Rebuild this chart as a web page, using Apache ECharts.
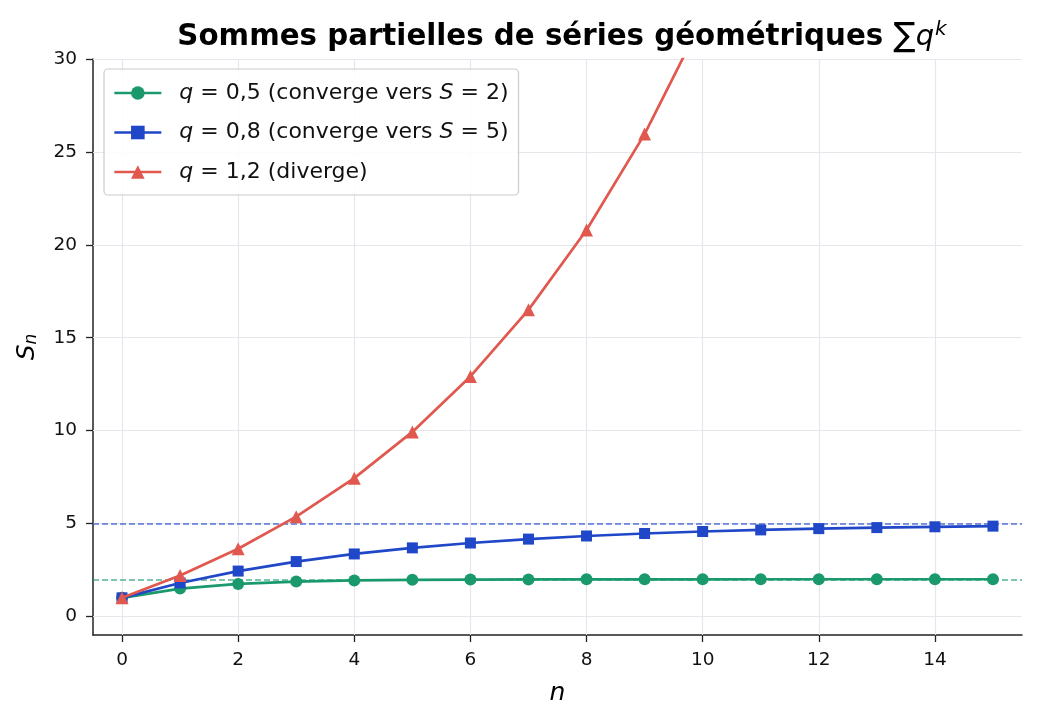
<!DOCTYPE html>
<html><head><meta charset="utf-8">
<script src="https://cdn.jsdelivr.net/npm/echarts@6/dist/echarts.min.js"></script>
<style>html,body{margin:0;padding:0;background:#fff}#c{width:1037px;height:720px}</style>
</head><body><div id="c"></div>
<script>
const n = [0,1,2,3,4,5,6,7,8,9,10,11,12,13,14,15];
const s05 = [1,1.5,1.75,1.875,1.9375,1.96875,1.984,1.992,1.996,1.998,1.999,1.9995,1.9998,1.9999,1.99994,1.99997];
const s08 = [1,1.8,2.44,2.952,3.362,3.689,3.951,4.161,4.329,4.463,4.571,4.656,4.725,4.780,4.824,4.859];
const s12 = [1,2.2,3.64,5.368,7.442,9.930,12.916,16.499,20.799,25.959,32.150,39.581,48.497,59.196,72.035,87.442];
const xTicks = [0,2,4,6,8,10,12,14];
const yTicks = [0,5,10,15,20,25,30];
const limits = [2,5];
const names = ['q = 0,5 (converge vers S = 2)','q = 0,8 (converge vers S = 5)','q = 1,2 (diverge)'];
const legendRich = {
  0:'{i|q} = 0,5 (converge vers {i|S} = 2)',
  1:'{i|q} = 0,8 (converge vers {i|S} = 5)',
  2:'{i|q} = 1,2 (diverge)'
};
const green='#1a9a6c', blue='#1f47c8', red='#e0584e';
const font='DejaVu Sans';
const pair = arr => n.map((x,i)=>[x,arr[i]]);

const chart = echarts.init(document.getElementById('c'));
const gridLines = xTicks.map(v=>({xAxis:v})).concat(yTicks.map(v=>({yAxis:v})));
chart.setOption({
  animation:false,
  textStyle:{fontFamily:font},
  title:{
    text:'{b|Sommes partielles de séries géométriques }{s|∑}{q|q}{sup|k}',
    left:557, textAlign:'center', top:15,
    textStyle:{rich:{
      b:{fontFamily:font,fontWeight:'bold',fontSize:29.3,color:'#000'},
      s:{fontFamily:font,fontWeight:'normal',fontSize:33,color:'#000'},
      q:{fontFamily:font,fontWeight:'normal',fontStyle:'italic',fontSize:29,color:'#000'},
      sup:{fontFamily:font,fontWeight:'normal',fontStyle:'italic',fontSize:20,color:'#000',verticalAlign:'top',padding:[0,0,14,1]}
    }}
  },
  grid:{left:93,right:15,top:59,bottom:85,containLabel:false},
  legend:{
    data:names, left:104, top:69, orient:'vertical',
    padding:[13,10,12,9], itemGap:17.5, itemWidth:47, itemHeight:17,
    lineStyle:{width:2.7},
    backgroundColor:'rgba(255,255,255,0.85)', borderColor:'#cccccc', borderWidth:1.2, borderRadius:4,
    formatter: name => legendRich[names.indexOf(name)],
    textStyle:{fontFamily:font,fontSize:22,color:'#111',padding:[0,0,0,13],
      rich:{i:{fontFamily:font,fontStyle:'italic',fontSize:22,color:'#111'}}}
  },
  xAxis:{
    type:'value', min:-0.5, max:15.5,
    name:'n', nameLocation:'middle', nameGap:46,
    nameTextStyle:{fontFamily:font,fontStyle:'italic',fontSize:25,color:'#000'},
    axisLine:{show:true,onZero:false,lineStyle:{color:'#222',width:1.5}},
    axisTick:{show:true,length:7,customValues:xTicks,lineStyle:{color:'#222',width:1.3}},
    axisLabel:{customValues:xTicks,fontSize:18.5,color:'#111',margin:16,fontFamily:font},
    splitLine:{show:false}
  },
  yAxis:{
    type:'value', min:-1, max:30,
    name:'{i|S}{sub|n}', nameLocation:'middle', nameGap:53,
    nameTextStyle:{rich:{
      i:{fontFamily:font,fontStyle:'italic',fontSize:25,color:'#000'},
      sub:{fontFamily:font,fontStyle:'italic',fontSize:17,color:'#000',verticalAlign:'bottom',padding:[9,0,0,0]}
    }},
    axisLine:{show:true,onZero:false,lineStyle:{color:'#222',width:1.5}},
    axisTick:{show:true,length:7,customValues:yTicks,lineStyle:{color:'#222',width:1.3}},
    axisLabel:{customValues:yTicks,fontSize:18.5,color:'#111',margin:16,fontFamily:font},
    splitLine:{show:false}
  },
  series:[
    {type:'line',data:[],z:1,silent:true,
     markLine:{z:1,silent:true,symbol:['none','none'],label:{show:false},
       lineStyle:{color:'#e6e6ec',width:1.2,type:'solid'},data:gridLines}},
    {type:'line',data:[],z:2,silent:true,
     markLine:{z:2,silent:true,symbol:['none','none'],label:{show:false},
       lineStyle:{color:'rgba(31,71,200,0.75)',width:1.5,type:[6,3]},data:[{yAxis:limits[1]}]}},
    {type:'line',data:[],z:2,silent:true,
     markLine:{z:2,silent:true,symbol:['none','none'],label:{show:false},
       lineStyle:{color:'rgba(26,154,108,0.75)',width:1.5,type:[6,3]},data:[{yAxis:limits[0]}]}},
    {name:names[0],type:'line',data:pair(s05),z:3,color:green,
     symbol:'circle',symbolSize:12,showAllSymbol:true,
     lineStyle:{color:green,width:2.7},itemStyle:{color:green}},
    {name:names[1],type:'line',data:pair(s08),z:4,color:blue,
     symbol:'rect',symbolSize:11,showAllSymbol:true,
     lineStyle:{color:blue,width:2.7},itemStyle:{color:blue}},
    {name:names[2],type:'line',data:pair(s12),z:5,color:red,clip:true,
     symbol:'triangle',symbolSize:13,showAllSymbol:true,
     lineStyle:{color:red,width:2.7},itemStyle:{color:red}}
  ]
});
</script></body></html>
